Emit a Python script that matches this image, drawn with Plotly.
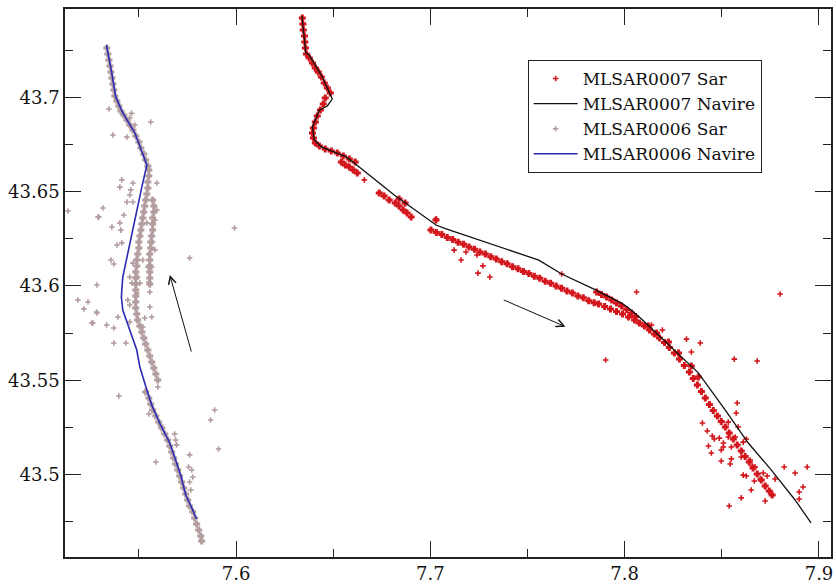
import plotly.graph_objects as go

# ---------------- MLSAR0007 : SAR detections ----------------
# dense detections following the ship track
sar7_track_lon = [
    7.6341, 7.6344, 7.6346, 7.6352, 7.6354, 7.6357, 7.6362, 7.6377, 7.6393, 7.6408,
    7.6423, 7.6439, 7.6454, 7.6470, 7.6485, 7.6459,
    7.6449, 7.6434, 7.6418, 7.6408, 7.6398, 7.6393, 7.6398, 7.6408, 7.6429, 7.6459,
    7.6490, 7.6521, 7.6552, 7.6583, 7.6613,
    7.6542, 7.6562, 7.6583, 7.6603, 7.6624, 7.6737, 7.6762, 7.6788, 7.6819, 7.6839,
    7.6860, 7.6880, 7.6901, 7.6839, 7.6870, 7.7029,
    7.7003, 7.7031, 7.7059, 7.7087, 7.7115, 7.7143, 7.7171, 7.7199, 7.7227, 7.7255,
    7.7283, 7.7311, 7.7339, 7.7367, 7.7395, 7.7423, 7.7451, 7.7479, 7.7507, 7.7535,
    7.7563, 7.7591, 7.7619, 7.7647, 7.7675, 7.7703, 7.7731, 7.7759, 7.7787, 7.7815,
    7.7843,
    7.7866, 7.7897, 7.7927, 7.7958, 7.7989, 7.8020, 7.8051, 7.8076, 7.8102, 7.8128,
    7.8153, 7.8179, 7.8205, 7.8230, 7.8256, 7.8282, 7.8307, 7.8333, 7.8353, 7.8374,
    7.8395, 7.8415, 7.8436, 7.8456, 7.8477, 7.8497, 7.8518, 7.8538, 7.8559, 7.8579,
    7.8600, 7.8620, 7.8641, 7.8661, 7.8682, 7.8703, 7.8723, 7.8744, 7.8759,
    7.7856, 7.7881, 7.7907, 7.7933, 7.7958, 7.7984, 7.8010, 7.8035, 7.8056, 7.8122,
    7.8164, 7.8225, 7.8277, 7.8343, 7.8379,
]
sar7_track_lat = [
    43.7420, 43.7389, 43.7357, 43.7325, 43.7293, 43.7261, 43.7230, 43.7208, 43.7182, 43.7155,
    43.7134, 43.7108, 43.7076, 43.7049, 43.7023, 43.6996,
    43.6964, 43.6933, 43.6901, 43.6869, 43.6837, 43.6811, 43.6784, 43.6758, 43.6742, 43.6726,
    43.6715, 43.6705, 43.6689, 43.6673, 43.6657,
    43.6657, 43.6641, 43.6630, 43.6615, 43.6599, 43.6493, 43.6477, 43.6455, 43.6439, 43.6424,
    43.6402, 43.6387, 43.6365, 43.6461, 43.6439, 43.6349,
    43.6297, 43.6283, 43.6272, 43.6257, 43.6246, 43.6231, 43.6221, 43.6206, 43.6195, 43.6180,
    43.6169, 43.6154, 43.6143, 43.6128, 43.6117, 43.6102, 43.6091, 43.6077, 43.6066, 43.6051,
    43.6040, 43.6025, 43.6014, 43.5999, 43.5988, 43.5973, 43.5962, 43.5947, 43.5937, 43.5922,
    43.5911,
    43.5904, 43.5891, 43.5878, 43.5864, 43.5851, 43.5835, 43.5819, 43.5803, 43.5787, 43.5766,
    43.5745, 43.5724, 43.5700, 43.5673, 43.5644, 43.5612, 43.5578, 43.5544, 43.5509, 43.5475,
    43.5440, 43.5406, 43.5371, 43.5339, 43.5310, 43.5281, 43.5252, 43.5220, 43.5188, 43.5157,
    43.5125, 43.5095, 43.5066, 43.5035, 43.5003, 43.4971, 43.4939, 43.4913, 43.4891,
    43.5968, 43.5954, 43.5941, 43.5925, 43.5909, 43.5893, 43.5875, 43.5856, 43.5838, 43.5787,
    43.5750, 43.5703, 43.5644, 43.5575, 43.5517,
]
# isolated detections
sar7_scatter_lon = [
    7.6660, 7.7122, 7.7183, 7.7158, 7.7240, 7.7270, 7.7245, 7.7306, 7.7029, 7.7676,
    7.8061, 7.8800, 7.7902, 7.8138, 7.8194, 7.8318, 7.8389, 7.8343, 7.8564, 7.8682,
    7.8579, 7.8574, 7.8584, 7.8533, 7.8400, 7.8425, 7.8451, 7.8461, 7.8487, 7.8431,
    7.8508, 7.8508, 7.8549, 7.8569, 7.8533, 7.8446, 7.8497, 7.8497, 7.8549, 7.8543,
    7.8610, 7.8600, 7.8646, 7.8656, 7.8672, 7.8610, 7.8626, 7.8667, 7.8713, 7.8733,
    7.8697, 7.8651, 7.8723, 7.8600, 7.8538, 7.8821, 7.8877, 7.8939, 7.8918, 7.8898,
    7.8898, 7.8774, 7.8626,
]
sar7_scatter_lat = [
    43.6562, 43.6190, 43.6180, 43.6137, 43.6164, 43.6106, 43.6068, 43.6047, 43.6355, 43.6063,
    43.5968, 43.5957, 43.5607, 43.5793, 43.5766, 43.5718, 43.5697, 43.5650, 43.5612, 43.5602,
    43.5379, 43.5326, 43.5252, 43.5278, 43.5273, 43.5231, 43.5204, 43.5188, 43.5193, 43.5151,
    43.5167, 43.5146, 43.5146, 43.5199, 43.5199, 43.5114, 43.5130, 43.5072, 43.5083, 43.5056,
    43.5172, 43.5093, 43.5077, 43.5045, 43.5040, 43.4997, 43.4992, 43.4966, 43.5008, 43.4992,
    43.4976, 43.4918, 43.4860, 43.4876, 43.4833, 43.5040, 43.5008, 43.5040, 43.4934, 43.4907,
    43.4870, 43.4976, 43.5188,
]

# ---------------- MLSAR0007 : ship track ----------------
nav7_lon = [
    7.6339, 7.6359, 7.6377, 7.6444, 7.6495, 7.6470, 7.6429, 7.6393, 7.6403, 7.6439,
    7.6567, 7.6634, 7.6814, 7.7029, 7.7081, 7.7353, 7.7558, 7.7676, 7.7850, 7.7984,
    7.8020, 7.8081, 7.8210, 7.8379, 7.8518, 7.8636, 7.8754, 7.8877, 7.8959,
]
nav7_lat = [
    43.7431, 43.7235, 43.7224, 43.7108, 43.6991, 43.6954, 43.6933, 43.6843, 43.6774, 43.6737,
    43.6684, 43.6631, 43.6482, 43.6323, 43.6302, 43.6206, 43.6137, 43.6063, 43.5979, 43.5909,
    43.5883, 43.5830, 43.5703, 43.5539, 43.5342, 43.5167, 43.5025, 43.4865, 43.4744,
]

# ---------------- MLSAR0006 : SAR detections ----------------
sar6_track_lon = [
    7.5335, 7.5340, 7.5346, 7.5351, 7.5356, 7.5361, 7.5366, 7.5371, 7.5376, 7.5387,
    7.5397, 7.5407, 7.5422, 7.5438, 7.5453, 7.5469, 7.5484, 7.5500, 7.5510, 7.5525,
    7.5535, 7.5546,
    7.5551, 7.5551, 7.5546, 7.5546, 7.5541, 7.5535, 7.5530, 7.5525, 7.5520, 7.5515,
    7.5510, 7.5505, 7.5500, 7.5500, 7.5494, 7.5489, 7.5489, 7.5484, 7.5484, 7.5484,
    7.5484, 7.5484, 7.5484, 7.5484, 7.5489, 7.5494, 7.5505, 7.5515, 7.5525, 7.5535,
    7.5546, 7.5556, 7.5566, 7.5577, 7.5587, 7.5597,
    7.5571, 7.5577, 7.5577, 7.5571, 7.5571, 7.5571, 7.5566, 7.5561, 7.5561, 7.5556,
    7.5556, 7.5556, 7.5556, 7.5556, 7.5556,
    7.5535, 7.5551, 7.5561, 7.5571, 7.5587, 7.5602, 7.5618, 7.5633, 7.5648, 7.5659,
    7.5669, 7.5679, 7.5689, 7.5700, 7.5710, 7.5720, 7.5731, 7.5741, 7.5751, 7.5761,
    7.5777, 7.5787, 7.5797, 7.5808, 7.5818, 7.5823,
]
sar6_track_lat = [
    43.7261, 43.7230, 43.7198, 43.7166, 43.7134, 43.7102, 43.7071, 43.7039, 43.7007, 43.6980,
    43.6954, 43.6927, 43.6906, 43.6880, 43.6853, 43.6827, 43.6795, 43.6763, 43.6731, 43.6699,
    43.6668, 43.6636,
    43.6615, 43.6583, 43.6551, 43.6519, 43.6487, 43.6455, 43.6424, 43.6392, 43.6360, 43.6328,
    43.6296, 43.6265, 43.6233, 43.6201, 43.6169, 43.6137, 43.6106, 43.6074, 43.6042, 43.6010,
    43.5978, 43.5947, 43.5915, 43.5883, 43.5851, 43.5819, 43.5787, 43.5756, 43.5724, 43.5692,
    43.5660, 43.5628, 43.5597, 43.5565, 43.5533, 43.5501,
    43.6455, 43.6424, 43.6392, 43.6360, 43.6328, 43.6296, 43.6265, 43.6233, 43.6201, 43.6169,
    43.6137, 43.6106, 43.6074, 43.6042, 43.6010,
    43.5438, 43.5406, 43.5374, 43.5342, 43.5310, 43.5279, 43.5247, 43.5215, 43.5183, 43.5151,
    43.5119, 43.5088, 43.5056, 43.5024, 43.4992, 43.4960, 43.4929, 43.4897, 43.4865, 43.4833,
    43.4802, 43.4770, 43.4738, 43.4706, 43.4674, 43.4648,
]
sar6_scatter_lon = [
    7.5346, 7.5366, 7.5462, 7.5453, 7.5479, 7.5561, 7.5438, 7.5592, 7.5412, 7.5402,
    7.5469, 7.5458, 7.5453, 7.5438, 7.5469, 7.5315, 7.5294, 7.5422, 7.5361, 7.5407,
    7.5402, 7.5387, 7.5412, 7.5356, 7.5371, 7.5592, 7.5582, 7.5571, 7.5582, 7.5761,
    7.5541, 7.5469, 7.5520, 7.5546, 7.5566, 7.5494, 7.5453, 7.5464, 7.5505, 7.5284,
    7.5992, 7.5135, 7.5289, 7.5282, 7.5263, 7.5334, 7.5371, 7.5371, 7.5433, 7.5392,
    7.5453, 7.5520, 7.5530, 7.5566, 7.5556, 7.5556, 7.5551, 7.5489, 7.5443, 7.5453,
    7.5397, 7.5890, 7.5869, 7.5910, 7.5551, 7.5612, 7.5684, 7.5689, 7.5694, 7.5587,
    7.5761, 7.5756, 7.5772, 7.5777, 7.5761, 7.5767, 7.5186, 7.5238, 7.5217, 7.5284,
    7.5258, 7.5597,
]
sar6_scatter_lat = [
    43.6938, 43.6800, 43.6915, 43.6890, 43.6853, 43.6869, 43.6789, 43.6546, 43.6562, 43.6524,
    43.6546, 43.6509, 43.6482, 43.6445, 43.6445, 43.6413, 43.6365, 43.6376, 43.6312, 43.6296,
    43.6334, 43.6217, 43.6228, 43.6137, 43.6116, 43.6402, 43.6349, 43.6233, 43.6191, 43.6148,
    43.6334, 43.6121, 43.6137, 43.6100, 43.6100, 43.6047, 43.6047, 43.6015, 43.6015, 43.6005,
    43.6307, 43.6397, 43.6365, 43.5862, 43.5803, 43.5793, 43.5777, 43.5697, 43.5697, 43.5835,
    43.5809, 43.5782, 43.5830, 43.5835, 43.5888, 43.5968, 43.6021, 43.5962, 43.5925, 43.5899,
    43.5416, 43.5342, 43.5289, 43.5135, 43.5321, 43.5258, 43.5215, 43.5183, 43.5157, 43.5066,
    43.5104, 43.5040, 43.5024, 43.4987, 43.4960, 43.4918, 43.5925, 43.5915, 43.5878, 43.5856,
    43.5803, 43.5464,
]

# ---------------- MLSAR0006 : ship track ----------------
nav6_lon = [
    7.5333, 7.5358, 7.5381, 7.5417, 7.5479, 7.5541, 7.5515, 7.5489, 7.5464, 7.5438,
    7.5417, 7.5412, 7.5410, 7.5417, 7.5438, 7.5453, 7.5489, 7.5505, 7.5541, 7.5566,
    7.5607, 7.5659, 7.5684, 7.5715, 7.5741, 7.5761, 7.5797,
]
nav6_lat = [
    43.7277, 43.7145, 43.7002, 43.6917, 43.6811, 43.6641, 43.6524, 43.6402, 43.6281, 43.6153,
    43.6047, 43.5978, 43.5941, 43.5872, 43.5803, 43.5766, 43.5660, 43.5570, 43.5448, 43.5369,
    43.5273, 43.5167, 43.5093, 43.4997, 43.4891, 43.4849, 43.4764,
]

# direction-of-travel arrows (tail -> head)
arrow_tail_lon = [7.5772, 7.7370]
arrow_tail_lat = [43.5644, 43.5929]
arrow_head_lon = [7.5659, 7.7695]
arrow_head_lat = [43.6058, 43.5784]

# axis ticks
x_major = [7.6, 7.7, 7.8, 7.9]
x_labels = ["7.6", "7.7", "7.8", "7.9"]
x_minor = [7.55, 7.65, 7.75, 7.85]
y_major = [43.5, 43.55, 43.6, 43.65, 43.7]
y_labels = ["43.5", "43.55", "43.6", "43.65", "43.7"]
y_minor = [43.475, 43.525, 43.575, 43.625, 43.675, 43.725]

RED = "#d3161c"
ROSY = "#b29c9e"
BLUE = "#2a2ab4"
INK = "#111111"
FONT = "DejaVu Serif, Liberation Serif, serif"


def sar_pair(track_x, track_y, spot_x, spot_y, name, color, group):
    """Dense detections drawn as heavy crosses, isolated ones as small crosses."""
    dense = go.Scatter(
        x=track_x, y=track_y, mode="markers", name=name, legendgroup=group,
        showlegend=False, hoverinfo="x+y",
        marker=dict(symbol="cross-thin", size=5, color=color,
                    line=dict(color=color, width=3)),
    )
    spots = go.Scatter(
        x=spot_x, y=spot_y, mode="markers", name=name, legendgroup=group,
        marker=dict(symbol="cross-thin", size=4, color=color,
                    line=dict(color=color, width=1.6)),
    )
    return dense, spots


fig = go.Figure()

d7, s7 = sar_pair(sar7_track_lon, sar7_track_lat, sar7_scatter_lon, sar7_scatter_lat,
                  "MLSAR0007 Sar", RED, "s7")
fig.add_trace(d7)
fig.add_trace(s7)
fig.add_trace(go.Scatter(
    x=nav7_lon, y=nav7_lat, mode="lines", name="MLSAR0007 Navire",
    line=dict(color=INK, width=1.3),
))
d6, s6 = sar_pair(sar6_track_lon, sar6_track_lat, sar6_scatter_lon, sar6_scatter_lat,
                  "MLSAR0006 Sar", ROSY, "s6")
fig.add_trace(d6)
fig.add_trace(s6)
fig.add_trace(go.Scatter(
    x=nav6_lon, y=nav6_lat, mode="lines", name="MLSAR0006 Navire",
    line=dict(color=BLUE, width=1.6),
))

for tx, ty, hx, hy in zip(arrow_tail_lon, arrow_tail_lat, arrow_head_lon, arrow_head_lat):
    fig.add_annotation(
        x=hx, y=hy, ax=tx, ay=ty, xref="x", yref="y", axref="x", ayref="y",
        text="", showarrow=True, arrowhead=5, arrowsize=1.5, arrowwidth=1,
        arrowcolor=INK,
    )

axis_common = dict(
    showline=True, linecolor="#222222", linewidth=1.5, mirror="allticks",
    ticks="inside", ticklen=16, tickwidth=1.3, tickcolor="#222222",
    showgrid=False, zeroline=False,
    tickfont=dict(family=FONT, size=18, color="#111111"),
)

fig.update_xaxes(
    range=[7.51197, 7.90618], tickmode="array", tickvals=x_major, ticktext=x_labels,
    minor=dict(tickmode="array", tickvals=x_minor, ticklen=8, tickwidth=1.3,
               tickcolor="#222222", ticks="inside", showgrid=False),
    **axis_common,
)
fig.update_yaxes(
    range=[43.45627, 43.74682], tickmode="array", tickvals=y_major, ticktext=y_labels,
    minor=dict(tickmode="array", tickvals=y_minor, ticklen=8, tickwidth=1.3,
               tickcolor="#222222", ticks="inside", showgrid=False),
    **axis_common,
)

fig.update_layout(
    width=836, height=588, autosize=False,
    margin=dict(l=65, r=3, t=9, b=31),
    paper_bgcolor="white", plot_bgcolor="white",
    font=dict(family=FONT, color="#111111"),
    showlegend=True,
    legend=dict(
        x=0.604, y=0.907, xanchor="left", yanchor="top",
        bgcolor="white", bordercolor="#222222", borderwidth=1,
        font=dict(family=FONT, size=17, color="#111111"),
        itemwidth=44, tracegroupgap=0,
    ),
)

fig.write_html("out.html")
